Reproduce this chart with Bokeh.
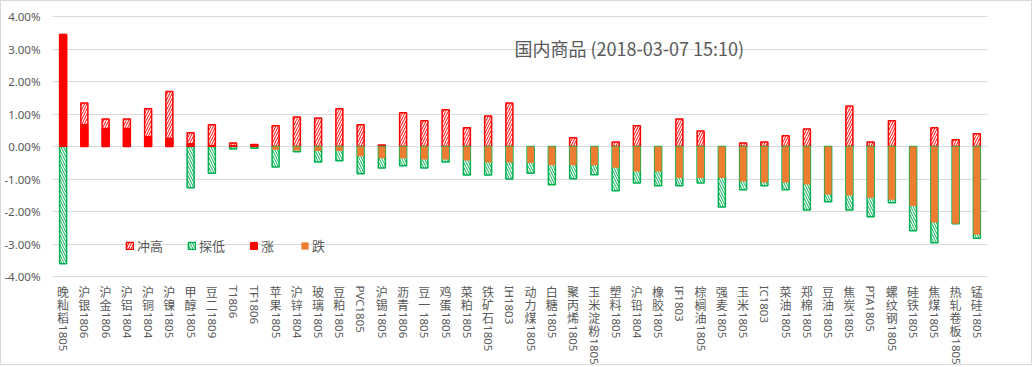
import math
import numpy as np
from bokeh.plotting import figure
from bokeh.models import (ColumnDataSource, FactorRange, Range1d, FixedTicker,
                          NumeralTickFormatter, Legend, LegendItem, Label)
from bokeh.core.properties import value
from bokeh.embed import file_html
from bokeh.resources import INLINE

# ---------------- data (percent) ----------------
categories = ["晚籼稻1805", "沪银1806", "沪金1806", "沪铝1804", "沪铜1804", "沪镍1805",
              "甲醇1805", "豆二1809", "T1806", "TF1806", "苹果1805", "沪锌1804",
              "玻璃1805", "豆粕1805", "PVC1805", "沪锡1805", "沥青1806", "豆一1805",
              "鸡蛋1805", "菜粕1805", "铁矿石1805", "IH1803", "动力煤1805", "白糖1805",
              "聚丙烯1805", "玉米淀粉1805", "塑料1805", "沪铅1804", "橡胶1805", "IF1803",
              "棕榈油1805", "强麦1805", "玉米1805", "IC1803", "菜油1805", "郑棉1805",
              "豆油1805", "焦炭1805", "PTA1805", "螺纹钢1805", "硅铁1805", "焦煤1805",
              "热轧卷板1805", "锰硅1805"]
high = [3.45, 1.34, 0.85, 0.85, 1.16, 1.69, 0.42, 0.67, 0.11, 0.06, 0.64, 0.91,
        0.88, 1.16, 0.67, 0.05, 1.04, 0.79, 1.13, 0.58, 0.94, 1.34, 0.0, 0.0,
        0.27, 0.0, 0.14, 0.64, 0.0, 0.85, 0.48, 0.0, 0.11, 0.14, 0.33, 0.54,
        0.0, 1.25, 0.14, 0.79, 0.0, 0.58, 0.21, 0.39]
low = [-3.61, 0.0, 0.0, 0.0, 0.0, 0.0, -1.27, -0.82, -0.08, -0.05, -0.63, -0.16,
       -0.48, -0.44, -0.84, -0.66, -0.59, -0.66, -0.48, -0.88, -0.88, -1.00, -0.82, -1.18,
       -0.99, -0.87, -1.36, -1.12, -1.21, -1.21, -1.12, -1.86, -1.33, -1.21, -1.33, -1.95,
       -1.70, -1.95, -2.16, -1.73, -2.59, -2.96, -2.38, -2.82]
change = [3.45, 0.68, 0.56, 0.56, 0.31, 0.26, 0.09, 0.03, 0.02, 0.06, -0.10, -0.12,
          -0.14, -0.14, -0.30, -0.36, -0.36, -0.40, -0.40, -0.43, -0.49, -0.49, -0.51, -0.58,
          -0.58, -0.58, -0.65, -0.77, -0.77, -0.97, -0.97, -0.97, -1.08, -1.11, -1.11, -1.17,
          -1.48, -1.51, -1.58, -1.64, -1.83, -2.34, -2.38, -2.71]
y_ticks = [-4, -3, -2, -1, 0, 1, 2, 3, 4]
series_names = ["冲高", "探低", "涨", "跌"]
title_text = "国内商品 (2018-03-07 15:10)"

# ---------------- derived ----------------
hi = np.array(high) / 100.0
lo = np.array(low) / 100.0
ch = np.array(change) / 100.0
nan = float("nan")
src = ColumnDataSource(dict(
    cat=categories,
    hi=np.where(hi > 0, hi, nan),
    lo=np.where(lo < 0, lo, nan),
    up=np.where(ch > 0, ch, nan),
    dn=np.where(ch < 0, ch, nan),
))

FONT_CJK = "Noto Sans CJK SC"
FONT_NUM = "Noto Sans"
GREY = "#595959"
RED = "#FF0000"
GREEN = "#00B050"
ORANGE = "#ED7D31"

W_FIG, H_FIG = 1032, 365
PX_PER_UNIT = 3250.0
y_top = max(y_ticks) / 100.0 + 15 / PX_PER_UNIT
y_bot = y_top - H_FIG / PX_PER_UNIT
y_lo_tick = min(y_ticks) / 100.0

p = figure(x_range=FactorRange(*categories, range_padding=0),
           y_range=Range1d(y_bot, y_top),
           width=W_FIG, height=H_FIG, output_backend="svg", toolbar_location=None,
           x_axis_location=None,
           min_border_left=51, min_border_right=46, min_border_top=0, min_border_bottom=0)
p.styles = {"border": "1px solid #d9d9d9"}
p.outline_line_color = None
p.xgrid.visible = False
p.ygrid.ticker = FixedTicker(ticks=[t / 100.0 for t in y_ticks])
p.ygrid.grid_line_color = "#d9d9d9"
p.yaxis.ticker = FixedTicker(ticks=[t / 100.0 for t in y_ticks])
p.yaxis.formatter = NumeralTickFormatter(format="0.00%")
p.yaxis.axis_line_color = None
p.yaxis.major_tick_line_color = None
p.yaxis.major_tick_out = 0
p.yaxis.major_tick_in = 0
p.yaxis.minor_tick_line_color = None
p.yaxis.minor_tick_out = 0
p.yaxis.major_label_text_font = FONT_NUM
p.yaxis.major_label_text_font_size = "11.5px"
p.yaxis.major_label_text_color = GREY
p.yaxis.major_label_standoff = 12

W = 0.33
r_hi = p.vbar(x="cat", bottom=0, top="hi", width=W, source=src,
              fill_color="white", line_color=RED, line_width=1.5,
              hatch_pattern="right_diagonal_line", hatch_color=RED,
              hatch_scale=5, hatch_weight=1)
r_lo = p.vbar(x="cat", bottom="lo", top=0, width=W, source=src,
              fill_color="white", line_color=GREEN, line_width=1.5,
              hatch_pattern="left_diagonal_line", hatch_color=GREEN,
              hatch_scale=5, hatch_weight=1)
r_up = p.vbar(x="cat", bottom=0, top="up", width=W, source=src,
              fill_color=RED, line_color=RED, line_width=1.0)
r_dn = p.vbar(x="cat", bottom="dn", top=0, width=W, source=src,
              fill_color=ORANGE, line_color=None)

# ---------------- vertical category labels ----------------
STEP = 13.2
START = 8
cx, ct, co = [], [], []
ax, at, ao = [], [], []
for c in categories:
    k = 0
    while k < len(c) and ord(c[k]) > 127:
        cx.append(c); ct.append(c[k]); co.append(START + 6.5 + k * STEP)
        k += 1
    rest = c[k:]
    if rest:
        ax.append(c); at.append(rest); ao.append(START + k * STEP + 1)
cjk_src = ColumnDataSource(dict(x=cx, y=[y_lo_tick] * len(cx), t=ct, off=co))
asc_src = ColumnDataSource(dict(x=ax, y=[y_lo_tick] * len(ax), t=at, off=ao))
p.text(x="x", y="y", text="t", y_offset="off", source=cjk_src, angle=0,
       text_align="center", text_baseline="middle", text_font=value(FONT_CJK),
       text_font_size="12px", text_color=GREY)
p.text(x="x", y="y", text="t", y_offset="off", source=asc_src, angle=-math.pi / 2,
       text_align="left", text_baseline="middle", text_font=value(FONT_NUM),
       text_font_size="11.5px", text_color=GREY)

# ---------------- legend ----------------
leg_style = dict(orientation="horizontal", padding=0, margin=0, spacing=24,
                 glyph_width=9, glyph_height=9, label_standoff=3, label_width=10,
                 label_height=14, label_text_font=FONT_CJK, label_text_font_size="13px",
                 label_text_color=GREY, border_line_color=None, background_fill_alpha=0)
legend1 = Legend(items=[LegendItem(label=series_names[0], renderers=[r_hi]),
                        LegendItem(label=series_names[1], renderers=[r_lo]),
                        LegendItem(label=series_names[2], renderers=[r_up])],
                 location=(73, 111), **leg_style)
legend2 = Legend(items=[LegendItem(label=series_names[3], renderers=[r_dn])],
                 location=(248, 111), **leg_style)
p.add_layout(legend1)
p.add_layout(legend2)

# ---------------- title ----------------
title = Label(x=462, y=319, x_units="screen", y_units="screen", text=title_text,
              text_font=FONT_CJK, text_font_size="18px", text_color=GREY,
              text_baseline="middle")
p.add_layout(title)

open("out.html", "w").write(file_html(p, INLINE))
